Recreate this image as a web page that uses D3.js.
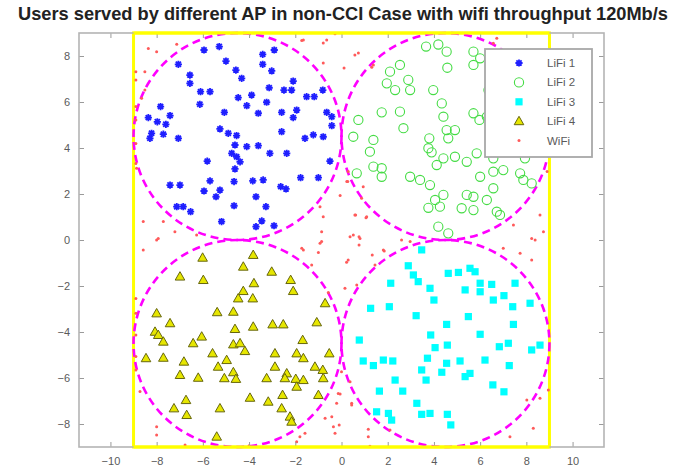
<!DOCTYPE html>
<html>
<head>
<meta charset="utf-8">
<script src="https://cdn.jsdelivr.net/npm/d3@7"></script>
<style>
  body { margin: 0; background: #fff; }
  svg { display: block; }
  text { font-family: "Liberation Sans", Arial, Helvetica, sans-serif; }
</style>
</head>
<body>
<svg id="chart" width="689" height="473"></svg>
<script>
// ---- data -------------------------------------------------------------
const titleText = "Users served by different AP in non-CCI Case with wifi throughput 120Mb/s";
const legendLabels = ["LiFi 1", "LiFi 2", "LiFi 3", "LiFi 4", "WiFi"];
const xTicks = [-10, -8, -6, -4, -2, 0, 2, 4, 6, 8, 10];
const yTicks = [-8, -6, -4, -2, 0, 2, 4, 6, 8];

// access point coverage: centres and radius
const apCenters = [[-4.5, 4.5], [4.5, 4.5], [4.5, -4.5], [-4.5, -4.5]];
const apRadius = 4.5;
// room boundary
const roomHalf = 9;

// users served by LiFi AP 1 (top-left)
const lifi1 = [[-5.95,8.26],[-5.29,8.41],[-3.41,8.07],[-2.91,8.26],[-7.06,7.64],[-5.0,7.78],[-3.41,7.64],[-3.02,7.35],[-4.57,7.39],[-6.56,7.17],
  [-6.56,6.81],[-4.32,7.03],[-6.1,6.45],[-5.69,6.45],[-3.13,6.62],[-2.49,6.52],[-2.16,6.52],[-2.09,6.91],[-3.89,6.3],[-4.47,6.19],
  [-1.51,6.23],[-1.18,6.23],[-0.81,6.52],[-6.13,5.9],[-7.83,5.8],[-3.24,5.99],[-4.1,5.84],[-7.42,5.41],[-8.36,5.32],[-7.97,5.14],
  [-7.6,5.03],[-5.07,5.55],[-3.6,5.51],[-2.59,5.55],[-1.94,5.65],[-2.09,5.32],[-0.64,5.55],[-0.42,5.36],[-0.42,4.97],[-8.22,4.64],
  [-8.29,4.42],[-7.71,4.6],[-7.06,4.42],[-5.26,4.83],[-4.9,4.64],[-4.54,4.54],[-2.59,4.71],[-1.58,4.42],[-1.22,4.57],[-0.79,4.49],
  [-4.61,4.13],[-4.1,4.06],[-3.6,4.1],[-4.75,3.77],[-4.54,3.62],[-3.1,3.77],[-2.37,3.77],[-4.39,3.4],[-4.61,3.09],[-5.81,3.43],
  [-0.5,3.43],[-5.69,2.57],[-4.65,2.54],[-3.84,2.57],[-3.39,2.61],[-7.42,2.39],[-6.99,2.39],[-5.95,2.13],[-5.26,2.17],[-5.43,1.88],
  [-2.63,2.32],[-2.4,2.22],[-1.77,2.71],[-1.0,2.71],[-3.7,1.88],[-3.27,1.45],[-7.13,1.45],[-6.85,1.45],[-6.53,1.23],[-4.65,1.49],
  [-5.19,0.8],[-3.45,0.83],[-3.7,0.58],[-2.92,0.62]];

// users served by LiFi AP 2 (top-right)
const lifi2 = [[3.66,8.41],[4.19,8.5],[4.55,8.19],[5.71,8.19],[5.71,7.61],[6.0,7.9],[4.58,7.49],[2.1,7.32],[2.53,7.61],[1.96,6.81],
  [2.32,6.52],[2.89,6.96],[2.97,6.52],[3.97,6.52],[4.34,5.94],[2.53,5.58],[1.74,5.55],[0.73,5.22],[4.41,5.36],[5.71,5.51],
  [5.97,5.22],[2.68,4.86],[4.55,4.78],[4.91,4.78],[4.62,4.42],[0.51,4.49],[1.38,4.35],[3.8,4.42],[3.76,3.99],[1.23,3.84],
  [3.9,3.81],[5.85,3.77],[4.41,3.55],[4.91,3.62],[4.12,3.26],[5.42,3.4],[1.38,3.19],[1.74,3.12],[1.74,2.75],[0.66,2.9],
  [2.97,2.75],[3.4,2.61],[3.83,2.39],[6.0,2.75],[6.57,2.97],[7.0,3.04],[7.73,2.9],[7.87,2.61],[8.23,2.46],[6.57,2.25],
  [4.41,1.96],[4.05,1.74],[5.42,1.96],[5.71,1.88],[6.29,1.74],[3.76,1.4],[4.26,1.45],[5.2,1.38],[5.71,1.3],[6.72,1.23],
  [6.86,1.09],[4.19,0.58],[4.62,0.29],[7.94,3.55],[6.57,3.55],[6.36,6.52],[6.29,5.36]];

// users served by LiFi AP 3 (bottom-right)
const lifi3 = [[3.47,-0.43],[2.89,-1.12],[3.11,-1.52],[3.32,-1.81],[2.13,-1.88],[3.83,-2.1],[4.0,-2.61],[4.62,-1.45],[5.06,-1.41],[5.56,-1.23],
  [5.78,-1.38],[5.35,-2.17],[6.0,-1.88],[6.0,-2.25],[6.5,-1.93],[7.51,-1.88],[6.57,-2.61],[7.03,-2.42],[7.41,-2.9],[8.16,-2.75],
  [1.26,-2.97],[2.07,-2.9],[3.23,-3.29],[5.49,-3.33],[4.55,-3.67],[7.44,-3.67],[0.77,-4.35],[3.86,-4.13],[6.0,-4.1],[4.05,-4.68],
  [4.58,-4.57],[6.83,-4.64],[7.22,-4.49],[8.23,-4.78],[8.59,-4.57],[0.94,-5.26],[1.38,-5.46],[1.81,-5.22],[2.22,-5.26],[3.72,-5.14],
  [4.55,-5.36],[5.13,-5.26],[6.21,-5.22],[7.26,-5.46],[3.47,-5.65],[4.34,-5.75],[5.35,-5.94],[5.56,-5.8],[2.32,-6.09],[3.66,-6.09],
  [6.55,-6.3],[1.64,-6.57],[2.65,-6.57],[7.03,-6.6],[3.26,-7.1],[1.52,-7.47],[2.03,-7.54],[2.17,-7.83],[3.47,-7.58],[3.83,-7.54],
  [4.58,-7.58],[4.73,-8.04]];

// users served by LiFi AP 4 (bottom-left)
const lifi4 = [[-6.01,-0.77],[-3.82,-0.65],[-4.25,-1.16],[-3.02,-1.38],[-6.99,-1.59],[-5.98,-1.74],[-3.79,-1.88],[-2.2,-1.74],[-2.09,-2.22],[-4.25,-2.22],
  [-4.47,-2.54],[-3.84,-2.54],[-8.0,-3.19],[-7.42,-3.62],[-5.38,-3.14],[-4.68,-3.12],[-4.61,-3.87],[-3.82,-3.77],[-2.98,-3.67],[-2.52,-3.67],
  [-1.07,-3.58],[-0.71,-2.75],[-8.07,-3.99],[-7.93,-4.13],[-7.71,-4.42],[-6.42,-4.49],[-6.05,-4.2],[-4.68,-4.54],[-4.39,-4.49],[-4.18,-4.83],
  [-1.68,-4.35],[-5.58,-4.93],[-4.97,-5.22],[-5.34,-5.51],[-1.94,-4.93],[-1.65,-5.14],[-1.15,-5.51],[-0.81,-5.65],[-0.53,-4.93],[-8.46,-5.14],
  [-7.71,-5.12],[-6.82,-5.29],[-2.88,-4.93],[-6.99,-5.87],[-6.2,-5.99],[-5.07,-6.01],[-4.68,-5.75],[-4.57,-6.04],[-3.24,-6.01],[-2.88,-5.51],
  [-2.37,-5.8],[-2.45,-6.01],[-1.98,-6.04],[-1.65,-6.09],[-1.94,-6.38],[-0.79,-6.01],[-3.96,-6.86],[-3.17,-7.03],[-2.55,-6.74],[-2.59,-7.32],
  [-2.23,-7.68],[-1.0,-6.74],[-6.73,-6.96],[-7.25,-7.32],[-6.7,-7.61],[-5.26,-7.32],[-2.16,-7.9],[-5.4,-8.55]];

// users served by WiFi
const wifi = [[-0.06,1.93],[0.87,1.81],[0.61,1.09],[1.06,0.97],[0.37,0.14],[0.76,0.14],[0.76,-0.22],[-0.86,-0.07],[-1.72,-0.36],[-1.0,-0.54],
  [0.22,-0.97],[1.33,-0.65],[1.85,-0.48],[1.45,-1.09],[-1.29,-1.09],[0.15,-2.1],[0.66,-1.96],[-0.57,-2.28],[0.27,2.54],[0.94,2.32],
  [-0.93,1.45],[-1.72,8.67],[-0.79,8.57],[0.73,8.13],[-0.79,7.7],[0.11,7.48],[1.31,7.51],[-0.28,8.97],[-0.06,-6.7],[-0.21,-7.1],
  [0.44,-7.1],[-0.42,-7.68],[-0.1,-8.04],[-0.28,-8.4],[-1.58,-8.4],[1.16,-8.23],[1.16,-8.55],[2.1,-8.26],[-1.94,-8.77],[1.23,-8.97],
  [-8.36,8.33],[-8.0,8.19],[-7.13,8.51],[-8.51,7.32],[-8.51,6.52],[-8.65,6.16],[-0.64,8.7],[-1.65,8.7],[-0.86,0.36],[-0.79,1.01],
  [-7.93,0.07],[-7.21,0.36],[-7.71,0.8],[-6.27,0.22],[-8.58,0.8],[-8.87,3.12],[0.58,8.04],[1.38,7.61],[6.72,8.77],[6.57,8.55],
  [0.29,2.98],[0.23,2.54],[0.58,1.09],[1.09,1.01],[0.51,0.22],[8.59,1.09],[8.74,0.36],[8.23,0.07],[7.44,0.65],[8.9,2.98],
  [-8.0,0.0],[-8.58,-0.43],[-0.93,-0.14],[-1.65,-0.43],[-0.71,-7.75],[-0.35,-8.12],[-0.14,-6.67],[-8.0,-8.48],[-8.0,-8.12],[-6.77,-8.91],
  [-1.8,-8.55],[-8.72,-6.59],[0.8,0.07],[2.6,0.0],[2.97,-0.07],[1.81,-0.43],[0.29,-0.87],[0.0,-5.73],[0.37,-6.16],[0.44,-7.17],
  [8.38,0.0],[7.73,-0.58],[7.0,-0.36],[8.23,-0.87],[8.59,-6.88],[8.02,-6.96],[8.3,-8.19],[7.29,-8.55],[8.95,-6.52],[-8.9,7.32],
  [-8.9,6.96],[-8.9,5.8],[-8.9,5.22],[-8.9,4.2],[-8.9,3.33],[-8.9,-2.54],[-8.9,-3.19],[-8.9,-4.13],[-8.9,-5.07],[-8.9,-5.65],
  [-4.0,-8.95]];

// ---- layout -----------------------------------------------------------
const svg = d3.select("#chart");
const plot = { left: 79, right: 604, top: 33, bottom: 447 };
const x = d3.scaleLinear().domain([-11.36, 11.36]).range([plot.left, plot.right]);
const y = d3.scaleLinear().domain([-9, 9]).range([plot.bottom, plot.top]);

const frameColor = "#b4b4b4";
const textColor = "#5a5a5a";

svg.append("rect").attr("x", plot.left).attr("y", plot.top)
  .attr("width", plot.right - plot.left).attr("height", plot.bottom - plot.top)
  .attr("fill", "#fff");

// ---- marker shapes ----------------------------------------------------
function asteriskPath(s) {
  const a = s * 0.72;
  return `M${-s},0L${s},0M0,${-s}L0,${s}M${-a},${-a}L${a},${a}M${-a},${a}L${a},${-a}`;
}
function trianglePath() {
  return "M0,-4.9L4.8,3.5L-4.8,3.5Z";
}
const styles = {
  lifi1: g => g.append("path").attr("d", asteriskPath(3.6)).attr("stroke", "#1f1fff").attr("stroke-width", 1.8).attr("fill", "none"),
  lifi2: g => g.append("circle").attr("r", 4.6).attr("fill", "none").attr("stroke", "#45dc45").attr("stroke-width", 1.1),
  lifi3: g => g.append("rect").attr("x", -3.6).attr("y", -3.6).attr("width", 7.2).attr("height", 7.2).attr("fill", "#00ffff"),
  lifi4: g => g.append("path").attr("d", trianglePath()).attr("fill", "#e6e600").attr("stroke", "#66660e").attr("stroke-width", 1),
  wifi: g => g.append("circle").attr("r", 1.5).attr("fill", "#ff5a5a")
};

// ---- room boundary and AP coverage circles -----------------------------
svg.append("rect")
  .attr("x", x(-roomHalf)).attr("y", y(roomHalf))
  .attr("width", x(roomHalf) - x(-roomHalf)).attr("height", y(-roomHalf) - y(roomHalf))
  .attr("fill", "none").attr("stroke", "#ffff00").attr("stroke-width", 3);

svg.append("g").selectAll("ellipse").data(apCenters).join("ellipse")
  .attr("cx", d => x(d[0])).attr("cy", d => y(d[1]))
  .attr("rx", x(apRadius) - x(0)).attr("ry", y(0) - y(apRadius))
  .attr("fill", "none").attr("stroke", "#ff00ff").attr("stroke-width", 2.6)
  .attr("stroke-dasharray", "8,5");

// ---- users ------------------------------------------------------------
function drawSeries(data, key) {
  svg.append("g").selectAll("g").data(data).join("g")
    .attr("transform", d => `translate(${x(d[0])},${y(d[1])})`)
    .each(function () { styles[key](d3.select(this)); });
}
drawSeries(wifi, "wifi");
drawSeries(lifi1, "lifi1");
drawSeries(lifi2, "lifi2");
drawSeries(lifi3, "lifi3");
drawSeries(lifi4, "lifi4");

// ---- axes -------------------------------------------------------------
function styleAxis(g, labels) {
  g.select(".domain").remove();
  g.selectAll(".tick line").attr("stroke", "#9a9a9a");
  g.selectAll(".tick text").attr("fill", textColor).attr("font-size", 11)
    .style("display", labels ? null : "none");
}
svg.append("g").attr("transform", `translate(0,${plot.bottom})`)
  .call(d3.axisBottom(x).tickValues(xTicks).tickSizeInner(-5).tickSizeOuter(0).tickPadding(10))
  .call(g => styleAxis(g, true));
svg.append("g").attr("transform", `translate(0,${plot.top})`)
  .call(d3.axisTop(x).tickValues(xTicks).tickSizeInner(-5).tickSizeOuter(0))
  .call(g => styleAxis(g, false));
svg.append("g").attr("transform", `translate(${plot.left},0)`)
  .call(d3.axisLeft(y).tickValues(yTicks).tickSizeInner(-5).tickSizeOuter(0).tickPadding(9))
  .call(g => styleAxis(g, true));
svg.append("g").attr("transform", `translate(${plot.right},0)`)
  .call(d3.axisRight(y).tickValues(yTicks).tickSizeInner(-5).tickSizeOuter(0))
  .call(g => styleAxis(g, false));
svg.selectAll(".tick text").attr("font-family", "'Liberation Sans', Arial, sans-serif");

// axes frame, with the room boundary laid over its top and bottom edges
svg.append("rect").attr("x", plot.left).attr("y", plot.top)
  .attr("width", plot.right - plot.left).attr("height", plot.bottom - plot.top)
  .attr("fill", "none").attr("stroke", frameColor).attr("stroke-width", 1.6);
svg.append("g").selectAll("line").data([roomHalf, -roomHalf]).join("line")
  .attr("x1", x(-roomHalf)).attr("x2", x(roomHalf))
  .attr("y1", d => y(d)).attr("y2", d => y(d))
  .attr("stroke", "#ffff00").attr("stroke-width", 3);

// ---- legend -----------------------------------------------------------
const legend = svg.append("g").attr("transform", "translate(485,49)");
legend.append("rect").attr("width", 107).attr("height", 108)
  .attr("fill", "#fff").attr("stroke", "#a8a8a8").attr("stroke-width", 1.8);
const legendKeys = ["lifi1", "lifi2", "lifi3", "lifi4", "wifi"];
legendKeys.forEach((k, i) => {
  const row = legend.append("g").attr("transform", `translate(34,${14 + i * 19.4})`);
  styles[k](row.append("g"));
  row.append("text").attr("x", 28).attr("y", 4).attr("font-size", 11.5)
    .attr("fill", textColor).text(legendLabels[i]);
});

// ---- title ------------------------------------------------------------
const title = svg.append("text").attr("x", 343).attr("y", 20)
  .attr("text-anchor", "middle").attr("font-weight", "bold")
  .attr("font-size", 14).attr("fill", "#222").text(titleText);
const titleWidth = title.node().getComputedTextLength();
title.attr("font-size", 14 * 650 / titleWidth);
</script>
</body>
</html>
